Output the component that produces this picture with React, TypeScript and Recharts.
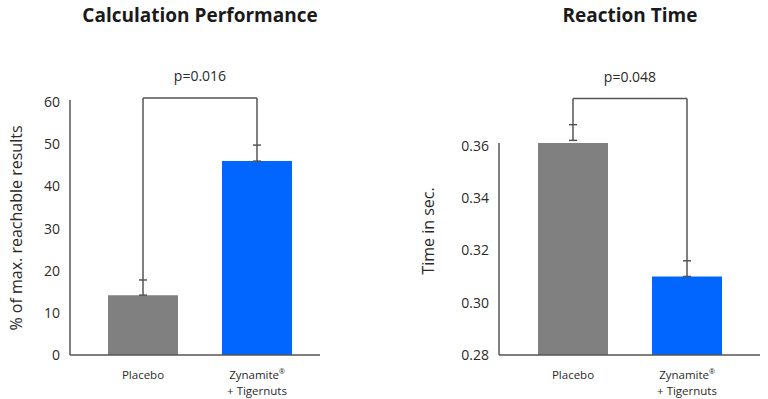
import { BarChart, Bar, XAxis, YAxis, Cell, ErrorBar, ReferenceLine, Label } from "recharts";

const categories = ["Placebo", "Zynamite® + Tigernuts"];
const barColors = ["#808080", "#0066ff"];

const calcValues = [14.2, 46.0];
const calcErrors = [3.6, 3.8];
const calcTicks = [0, 10, 20, 30, 40, 50, 60];
const calcBracket = 61;
const calcP = "p=0.016";

const reactValues = [0.362, 0.31];
const reactErrors = [0.006, 0.006];
const reactTicks = [0.28, 0.3, 0.32, 0.34, 0.36];
const reactBracket = 0.378;
const reactP = "p=0.048";

const FONT = "'Open Sans', sans-serif";
const LINE = "#555";
const TEXT = "#2a2a2a";

function CategoryTick({ x, y, payload }: any) {
  const parts = String(payload.value).split(" + ");
  return (
    <g transform={`translate(${x},${y})`} fontFamily={FONT} fontSize={11.5} fill={TEXT}>
      {parts.map((p, i) => {
        const txt = i > 0 ? `+ ${p}` : p;
        const reg = txt.endsWith("®");
        return (
          <text key={i} x={0} y={22 + i * 16} textAnchor="middle">
            {reg ? txt.slice(0, -1) : txt}
            {reg && (
              <tspan fontSize={7} dy={-5}>
                ®
              </tspan>
            )}
          </text>
        );
      })}
    </g>
  );
}

// rotated axis title at a fixed centre point
function AxisTitle({ value, cx, cy }: any) {
  return (
    <text
      transform={`translate(${cx},${cy}) rotate(-90)`}
      textAnchor="middle"
      dy="0.36em"
      fontSize={16}
      fontFamily={FONT}
      fill={TEXT}
    >
      {value}
    </text>
  );
}

interface PanelProps {
  values: number[];
  errors: number[];
  ticks: number[];
  domain: [number, number];
  bracket: number;
  pLabel: string;
  yLabel: string;
  margin: { top: number; right: number; bottom: number; left: number };
  yWidth: number;
  labelX: number;
  labelY: number;
  padding: { left: number; right: number };
  tickFormat?: (v: number) => string;
}

function Panel(props: PanelProps) {
  const data = categories.map((name, i) => ({
    name,
    value: props.values[i],
    err: [0, props.errors[i]],
    top: props.values[i] + props.errors[i],
  }));
  return (
    <BarChart width={384} height={399} data={data} margin={props.margin}>
      <XAxis
        dataKey="name"
        height={40}
        padding={props.padding}
        axisLine={{ stroke: LINE, strokeWidth: 1.5 }}
        tickLine={false}
        tickSize={0}
        tick={<CategoryTick />}
        interval={0}
      />
      <YAxis
        width={props.yWidth}
        domain={props.domain}
        ticks={props.ticks}
        allowDataOverflow
        axisLine={{ stroke: LINE, strokeWidth: 1.5 }}
        tickLine={false}
        tickSize={0}
        tickMargin={10}
        tickFormatter={props.tickFormat}
        tick={{ fill: TEXT, fontSize: 14, fontFamily: FONT }}
      >
        <Label
          value={props.yLabel}
          content={() => <AxisTitle value={props.yLabel} cx={props.labelX} cy={props.labelY} />}
        />
      </YAxis>
      <Bar dataKey="value" barSize={70} isAnimationActive={false}>
        {data.map((d, i) => (
          <Cell key={d.name} fill={barColors[i]} />
        ))}
        <ErrorBar dataKey="err" width={4} stroke={LINE} strokeWidth={1.5} direction="y" />
      </Bar>
      {data.map((d) => (
        <ReferenceLine
          key={d.name}
          segment={[
            { x: d.name, y: d.top },
            { x: d.name, y: props.bracket },
          ]}
          stroke={LINE}
          strokeWidth={1.5}
          ifOverflow="visible"
        />
      ))}
      <ReferenceLine
        segment={[
          { x: categories[0], y: props.bracket },
          { x: categories[1], y: props.bracket },
        ]}
        stroke={LINE}
        strokeWidth={1.5}
        ifOverflow="visible"
        label={{ value: props.pLabel, position: "top", offset: 17, fontSize: 14, fill: TEXT, fontFamily: FONT }}
      />
    </BarChart>
  );
}

const titleStyle: React.CSSProperties = {
  position: "absolute",
  top: 2,
  fontFamily: FONT,
  fontWeight: 700,
  fontSize: 19,
  color: "#1a1a1a",
  textAlign: "center",
  width: 300,
};

export default function App() {
  return (
    <div style={{ position: "absolute", left: 0, top: 0, width: 768, height: 399, background: "#fff", overflow: "hidden" }}>
      <div style={{ position: "absolute", left: 0, top: 0 }}>
        <Panel
          values={calcValues}
          errors={calcErrors}
          ticks={calcTicks}
          domain={[0, 60.5]}
          bracket={calcBracket}
          pLabel={calcP}
          yLabel="% of max. reachable results"
          margin={{ top: 100, right: 64, bottom: 4, left: 10 }}
          yWidth={60}
          labelX={16}
          labelY={228}
          padding={{ left: 16, right: 6 }}
        />
      </div>
      <div style={{ position: "absolute", left: 384, top: 0 }}>
        <Panel
          values={reactValues}
          errors={reactErrors}
          ticks={reactTicks}
          domain={[0.28, 0.361]}
          bracket={reactBracket}
          pLabel={reactP}
          yLabel="Time in sec."
          margin={{ top: 143, right: 8, bottom: 4, left: 38 }}
          yWidth={77}
          labelX={44}
          labelY={231}
          padding={{ left: 17, right: 16 }}
          tickFormat={(v) => v.toFixed(2)}
        />
      </div>
      <div style={{ ...titleStyle, left: 50 }}>Calculation Performance</div>
      <div style={{ ...titleStyle, left: 480 }}>Reaction Time</div>
    </div>
  );
}
